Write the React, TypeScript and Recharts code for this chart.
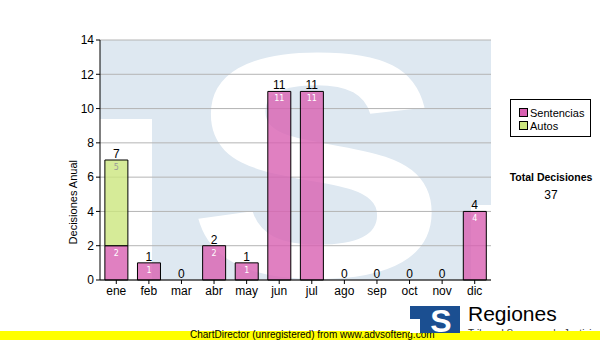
import { Bar, CartesianGrid, ComposedChart, LabelList, Line, XAxis, YAxis } from 'recharts'

const months = ['ene', 'feb', 'mar', 'abr', 'may', 'jun', 'jul', 'ago', 'sep', 'oct', 'nov', 'dic']
const sentencias = [2, 1, 0, 2, 1, 11, 11, 0, 0, 0, 0, 4]
const autos = [5, 0, 0, 0, 0, 0, 0, 0, 0, 0, 0, 0]
const yTicks = [0, 2, 4, 6, 8, 10, 12, 14]

const PINK = '#d860b1'
const GREEN = '#cce67e'
const FONT = '"Liberation Sans", Arial, sans-serif'

const data = months.map((m, i) => ({ m, s: sentencias[i], a: autos[i], t: sentencias[i] + autos[i] }))
const totalDecisiones = [...sentencias, ...autos].reduce((acc, v) => acc + v, 0)

// total above each column, hung on an invisible line through the column tops
function TopLabel(props: any) {
  const { x, y, value } = props
  return (
    <text x={x} y={y - 2} textAnchor="middle" fontSize={12} fontFamily={FONT} fill="#000">
      {value}
    </text>
  )
}

function InnerLabel(values: number[], color: string) {
  return (props: any) => {
    const { x, y, width, value } = props
    const i = months.indexOf(value)
    if (i < 0 || !values[i]) return null
    return (
      <text x={x + width / 2} y={y + 10} textAnchor="middle" fontSize={8} fontFamily="DejaVu Sans, sans-serif" fill={color}>
        {values[i]}
      </text>
    )
  }
}

function Watermark() {
  return (
    <svg width={600} height={340} style={{ position: 'absolute', left: 0, top: 0 }}>
      <defs>
        <clipPath id="plotClip">
          <rect x={100} y={40} width={391} height={240} />
        </clipPath>
      </defs>
      <g clipPath="url(#plotClip)">
        <rect x={100} y={40} width={391} height={240} fill="#dee8f1" />
        <rect x={100} y={119} width={52} height={161} fill="#fff" />
        <rect x={471} y={205} width={20} height={75} fill="#fff" />
        <text
          transform="translate(317,276) scale(1.18,0.97)"
          textAnchor="middle"
          fontSize={330}
          fontWeight="bold"
          fontFamily={FONT}
          fill="#fff"
        >
          S
        </text>
      </g>
    </svg>
  )
}

export default function App() {
  return (
    <div style={{ position: 'absolute', left: 0, top: 0, width: 600, height: 340, background: '#fff', overflow: 'hidden', fontFamily: FONT }}>
      <Watermark />
      <div style={{ position: 'absolute', left: 0, top: 0 }}>
        <ComposedChart width={600} height={340} data={data} margin={{ top: 40, right: 109, left: 0, bottom: 40 }} barCategoryGap="15%">
          <CartesianGrid vertical={false} stroke="#b4b4b4" />
          <XAxis
            dataKey="m"
            height={20}
            tickSize={4}
            tickMargin={2}
            stroke="#000"
            tick={{ fill: '#000', fontSize: 12, fontFamily: FONT }}
          />
          <XAxis xAxisId="top" dataKey="m" orientation="top" height={0} tick={false} tickLine={false} stroke="#000" />
          <YAxis
            width={100}
            domain={[0, 14]}
            ticks={yTicks}
            tickSize={4}
            tickMargin={2}
            stroke="#000"
            tick={{ fill: '#000', fontSize: 12, fontFamily: FONT }}
            label={{ value: 'Decisiones Anual', angle: -90, position: 'insideRight', offset: 27, fontSize: 11, fontFamily: FONT, fill: '#000' }}
          />
          <YAxis yAxisId="right" orientation="right" width={0} domain={[0, 14]} tick={false} tickLine={false} stroke="#000" />
          <Bar dataKey="s" stackId="a" fill={PINK} fillOpacity={0.8} stroke="#000" strokeWidth={1} isAnimationActive={false}>
            <LabelList dataKey="m" content={InnerLabel(sentencias, '#fff')} />
          </Bar>
          <Bar dataKey="a" stackId="a" fill={GREEN} fillOpacity={0.8} stroke="#000" strokeWidth={1} isAnimationActive={false}>
            <LabelList dataKey="m" content={InnerLabel(autos, '#9a9a9a')} />
          </Bar>
          <Line dataKey="t" stroke="none" dot={false} activeDot={false} isAnimationActive={false}>
            <LabelList dataKey="t" content={TopLabel} />
          </Line>
        </ComposedChart>
      </div>

      {/* legend */}
      <div style={{ position: 'absolute', left: 510, top: 99, width: 79, height: 36, border: '1px solid #000', fontSize: 11 }}>
        {[
          ['Sentencias', PINK],
          ['Autos', GREEN],
        ].map(([name, color], i) => (
          <div key={name} style={{ position: 'absolute', left: 8, top: 6 + i * 13, display: 'flex', alignItems: 'center', height: 13 }}>
            <span style={{ width: 7, height: 7, background: color, border: '1px solid #000', marginRight: 2 }} />
            <span>{name}</span>
          </div>
        ))}
      </div>

      <div style={{ position: 'absolute', left: 501, width: 100, top: 171, textAlign: 'center', fontSize: 10.5, fontWeight: 'bold' }}>
        Total Decisiones
      </div>
      <div style={{ position: 'absolute', left: 501, width: 100, top: 188, textAlign: 'center', fontSize: 12 }}>
        {totalDecisiones}
      </div>

      {/* footer logo */}
      <div style={{ position: 'absolute', left: 468, top: 302, fontSize: 21, lineHeight: '24px' }}>Regiones</div>
      <div style={{ position: 'absolute', left: 468, top: 328, fontSize: 10, lineHeight: '12px', color: '#333' }}>Tribunal Supremo de Justicia</div>
      <div style={{ position: 'absolute', left: 0, top: 331, width: 600, height: 9, background: '#ffff00' }} />
      <div style={{ position: 'absolute', left: 190, top: 329, fontSize: 10, lineHeight: '12px', color: '#000' }}>
        ChartDirector (unregistered) from www.advsofteng.com
      </div>
      <svg width={52} height={30} style={{ position: 'absolute', left: 409, top: 305 }}>
        <rect x={1} y={1} width={50} height={27} fill="#1b4f91" />
        <rect x={1} y={14} width={10} height={14} fill="#fff" />
        <text x={32} y={27} textAnchor="middle" fontSize={32} fontWeight="bold" fontFamily={FONT} fill="#fff">
          S
        </text>
      </svg>
    </div>
  )
}
